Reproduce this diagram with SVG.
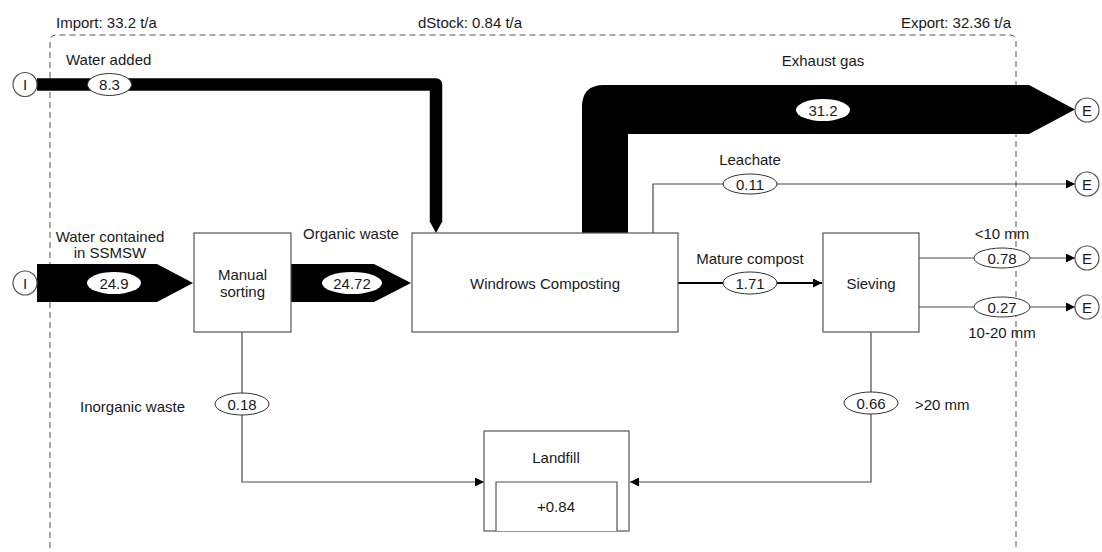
<svg xmlns="http://www.w3.org/2000/svg" width="1102" height="552" viewBox="0 0 1102 552">
<defs>
<style>
text{font-family:"Liberation Sans",Arial,sans-serif;font-size:15px;fill:#1a1a1a}
.mid{text-anchor:middle}
.box{fill:#fff;stroke:#555;stroke-width:1.2}
.term{fill:#fff;stroke:#555;stroke-width:1.2}
.line{fill:none;stroke:#4a4a4a;stroke-width:1.2}
.val{fill:#fff;stroke:#333;stroke-width:1}
.valb{fill:#fff;stroke:none}
.band{fill:#000}
</style>
<marker id="ah" viewBox="0 0 10 10" refX="10" refY="5" markerWidth="10" markerHeight="9" markerUnits="userSpaceOnUse" orient="auto">
<path d="M0,0 L10,5 L0,10 Z" fill="#000"/>
</marker>
</defs>
<rect width="1102" height="552" fill="#fff"/>

<g id="boundary">
<path d="M50,548 V41 Q50,35 56,35 H1010 Q1016,35 1016,41 V548" fill="none" stroke="#555" stroke-width="1" stroke-dasharray="6,4"/>
<text x="56" y="28">Import: 33.2 t/a</text>
<text x="470" y="28" class="mid">dStock: 0.84 t/a</text>
<text x="1011" y="28" text-anchor="end">Export: 32.36 t/a</text>
</g>

<g id="connectors">
<g id="flow-water-added">
<path d="M37,84.5 H436 V222" fill="none" stroke="#000" stroke-width="12.5" stroke-linejoin="round"/>
<path d="M429.5,221 H442.5 L436,233 Z" fill="#000"/>
<text x="66" y="65">Water added</text>
<ellipse cx="109.5" cy="84.5" rx="22" ry="11" class="val"/>
<text x="109.5" y="90" class="mid">8.3</text>
</g>
<g id="flow-water-contained">
<path d="M37,264 H157 V264 L193,283 L157,302 H37 Z" class="band"/>
<text x="110" y="242" class="mid">Water contained</text>
<text x="110" y="258" class="mid">in SSMSW</text>
<ellipse cx="114" cy="283" rx="27" ry="11" class="valb"/>
<text x="114" y="288.5" class="mid">24.9</text>
</g>
<g id="flow-organic">
<path d="M291,264 H374 L411,283 L374,302 H291 Z" class="band"/>
<text x="351" y="239" class="mid">Organic waste</text>
<ellipse cx="352" cy="283" rx="30" ry="11" class="valb"/>
<text x="352" y="288.5" class="mid">24.72</text>
</g>
<g id="flow-exhaust">
<path d="M582,233 V107 Q582,85 604,85 H1029 L1075,109.5 L1029,134 H628 V233 Z" class="band"/>
<text x="823" y="66" class="mid">Exhaust gas</text>
<ellipse cx="823" cy="110" rx="27" ry="11" class="valb"/>
<text x="823" y="115.5" class="mid">31.2</text>
</g>
<g id="flow-leachate">
<path d="M653,233 V184 H1075" class="line" marker-end="url(#ah)"/>
<text x="750" y="165" class="mid">Leachate</text>
<ellipse cx="750" cy="184" rx="27" ry="10" class="val"/>
<text x="750" y="189.5" class="mid">0.11</text>
</g>
<g id="flow-mature">
<path d="M678,283 H822" fill="none" stroke="#000" stroke-width="2.2" marker-end="url(#ah)"/>
<text x="750" y="264" class="mid">Mature compost</text>
<ellipse cx="750" cy="283" rx="27" ry="11" class="val"/>
<text x="750" y="288.5" class="mid">1.71</text>
</g>
<g id="flow-lt10">
<path d="M919,258 H1075" class="line" marker-end="url(#ah)"/>
<text x="1002" y="239" class="mid">&lt;10 mm</text>
<ellipse cx="1002" cy="258" rx="28" ry="10" class="val"/>
<text x="1002" y="263.5" class="mid">0.78</text>
</g>
<g id="flow-10-20">
<path d="M919,307 H1075" class="line" marker-end="url(#ah)"/>
<text x="1002" y="338" class="mid">10-20 mm</text>
<ellipse cx="1002" cy="307" rx="28" ry="10" class="val"/>
<text x="1002" y="312.5" class="mid">0.27</text>
</g>
<g id="flow-inorganic">
<path d="M242,332 V482 H484" class="line" marker-end="url(#ah)"/>
<text x="80" y="412">Inorganic waste</text>
<ellipse cx="242" cy="404" rx="27" ry="11" class="val"/>
<text x="242" y="409.5" class="mid">0.18</text>
</g>
<g id="flow-gt20">
<path d="M871,332 V482 H630" class="line" marker-end="url(#ah)"/>
<text x="915" y="410">&gt;20 mm</text>
<ellipse cx="871" cy="403" rx="27" ry="11" class="val"/>
<text x="871" y="408.5" class="mid">0.66</text>
</g>
</g>

<g id="import-water-added">
<circle cx="25" cy="84.5" r="12" class="term"/>
<text x="25" y="90" class="mid">I</text>
</g>
<g id="import-water-contained">
<circle cx="25" cy="283" r="12" class="term"/>
<text x="25" y="288.5" class="mid">I</text>
</g>
<g id="export-exhaust">
<circle cx="1087" cy="110" r="12" class="term"/>
<text x="1087" y="115.5" class="mid">E</text>
</g>
<g id="export-leachate">
<circle cx="1087" cy="184" r="12" class="term"/>
<text x="1087" y="189.5" class="mid">E</text>
</g>
<g id="export-lt10">
<circle cx="1087" cy="258" r="12" class="term"/>
<text x="1087" y="263.5" class="mid">E</text>
</g>
<g id="export-10-20">
<circle cx="1087" cy="307" r="12" class="term"/>
<text x="1087" y="312.5" class="mid">E</text>
</g>

<g id="manual-sorting">
<rect x="194" y="233" width="97" height="99" class="box"/>
<text x="242.5" y="280" class="mid">Manual</text>
<text x="242.5" y="297" class="mid">sorting</text>
</g>
<g id="windrows-composting">
<rect x="412" y="233" width="266" height="99" class="box"/>
<text x="545" y="288.5" class="mid">Windrows Composting</text>
</g>
<g id="sieving">
<rect x="823" y="233" width="96" height="99" class="box"/>
<text x="871" y="288.5" class="mid">Sieving</text>
</g>
<g id="landfill">
<rect x="484" y="431" width="145" height="100" class="box"/>
<path d="M496,531 V482 H617 V531" class="box"/>
<text x="556" y="463" class="mid">Landfill</text>
<text x="556" y="512" class="mid">+0.84</text>
</g>
</svg>
